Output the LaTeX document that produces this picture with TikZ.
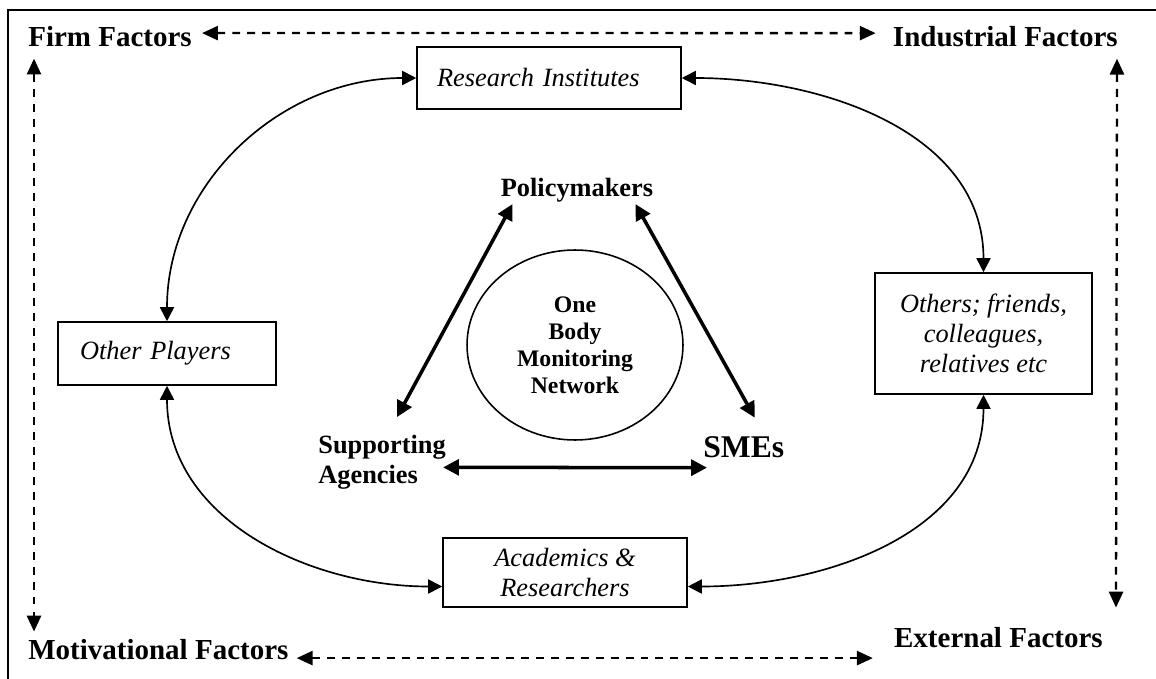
\documentclass[tikz,border=0pt]{standalone}
\usepackage{fontspec}
\setmainfont{Liberation Serif}
\usepackage{tikz}
\usetikzlibrary{arrows.meta, shapes.geometric, positioning, calc}

\begin{document}
\begin{tikzpicture}[x=0.02cm, y=0.02cm,
    player/.style={draw, rectangle, line width=0.9pt, inner sep=0pt, font=\fontsize{15}{17}\selectfont\itshape},
    factor/.style={inner sep=0pt, font=\fontsize{16.5}{19}\selectfont\bfseries},
    actor/.style={inner sep=0pt, font=\fontsize{15}{17}\selectfont\bfseries},
    tie/.style={<->, line width=0.95pt, >={Triangle[length=8pt, width=8pt]}},
    bond/.style={<->, line width=2pt, >={Triangle[length=9pt, width=9pt]}},
    factorlink/.style={<->, line width=1.3pt, dash pattern=on 4.5pt off 4pt, >={Triangle[length=9pt, width=8pt]}}]
    \useasboundingbox (0,0) rectangle (1156,-679);
    \draw[line width=0.9pt] (1156,-10) -- (8,-10) -- (8,-679);

    % Nodes
    \node[factor, anchor=base west] (firm) at (28,-47) {Firm Factors};
    \node[factor, anchor=base east] (ind) at (1118,-47) {Industrial Factors};
    \node[factor, anchor=base west] (mot) at (28,-659) {Motivational Factors};
    \node[factor, anchor=base east] (ext) at (1103,-647) {External Factors};

    \node[player, minimum width=5.28cm, minimum height=1.24cm, text width=4.48cm, align=left] (ri) at (549,-78) {Research Institutes};
    \node[player, minimum width=4.36cm, minimum height=1.26cm, text width=3.48cm, align=left] (op) at (167,-353.5) {Other Players};
    \node[player, minimum width=4.34cm, minimum height=2.42cm, align=center] (ot) at (983.5,-333.5) {Others; friends,\\ colleagues,\\ relatives etc};
    \node[player, minimum width=4.88cm, minimum height=1.38cm, align=center] (ar) at (565,-572.5) {Academics \&\\ Researchers};

    \node[draw, ellipse, line width=0.9pt, minimum width=4.32cm, minimum height=3.8cm, inner sep=0pt, align=center, font=\fontsize{13.5}{15.3}\selectfont\bfseries] (obmn) at (575,-345) {One\\ Body\\ Monitoring\\ Network};
    \node[actor, anchor=base] (pm) at (577,-196) {Policymakers};
    \node[actor, align=left, anchor=north west] (sa) at (318,-435) {Supporting\\ Agencies};
    \node[actor, font=\fontsize{18}{20}\selectfont\bfseries, anchor=base west] (sme) at (703,-457) {SMEs};

    % Edges
    \draw[tie] (ri.west) to[out=180, in=90] (op.north);
    \draw[tie] (ri.east) to[out=0, in=90] (ot.north);
    \draw[tie] (op.south) to[out=-90, in=180] ($(ar.west)+(0,-14)$);
    \draw[tie] ($(ar.east)+(0,-14)$) to[out=0, in=-90] (ot.south);

    \draw[bond] ($(pm.south west)+(12,-2)$) -- ($(sa.north)+(15,18)$);
    \draw[bond] ($(pm.south east)+(-18,-2)$) -- ($(sme.north)+(11,18)$);
    \draw[bond] ($(sa.east)+(-3,-5)$) -- ($(sme.west)+(4,-21)$);

    \draw[factorlink] ($(firm.east)+(10,4)$) -- ($(ind.west)+(-17,4)$);
    \draw[factorlink] ($(firm.south west)+(6,-11)$) -- ($(mot.north west)+(6,7)$);
    \draw[factorlink] ($(mot.east)+(8,-9)$) -- ($(ext.west)+(-21,-21)$);
    \draw[factorlink] ($(ind.south east)+(-1,-11)$) -- ($(ext.north east)+(13,19)$);
\end{tikzpicture}
\end{document}
